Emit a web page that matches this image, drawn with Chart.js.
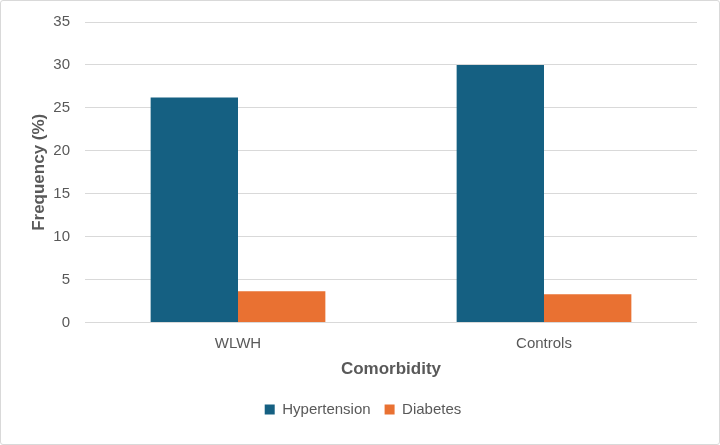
<!DOCTYPE html>
<html><head><meta charset="utf-8">
<script src="https://cdn.jsdelivr.net/npm/chart.js@4.4.1/dist/chart.umd.min.js"></script>
<style>
html,body{margin:0;padding:0;background:#fff;}
#wrap{position:relative;width:720px;height:445px;box-sizing:border-box;border:1px solid #d9d9d9;border-radius:3px;}
</style></head>
<body><div id="wrap"><canvas id="c"></canvas></div>
<script>
const categories = ["WLWH", "Controls"];
const hypertension = [26.2, 30.0];
const diabetes = [3.65, 3.3];
const yTicks = [0, 5, 10, 15, 20, 25, 30, 35];

const txt = "#595959";
const fam = "'Liberation Sans', Arial, sans-serif";
new Chart(document.getElementById('c'), {
  type: 'bar',
  data: {
    labels: categories,
    datasets: [
      {label: "Hypertension", data: hypertension, backgroundColor: "#156082", barPercentage: 1, categoryPercentage: 0.571},
      {label: "Diabetes", data: diabetes, backgroundColor: "#E97132", barPercentage: 1, categoryPercentage: 0.571}
    ]
  },
  options: {
    responsive: true, maintainAspectRatio: false, animation: false,
    layout: {padding: {left: 28, right: 22, top: 21, bottom: 17}},
    plugins: {
      legend: {position: 'bottom', labels: {color: txt, font: {family: fam, size: 15}, usePointStyle: true, pointStyle: 'rect', boxWidth: 10, boxHeight: 10, padding: 14}},
      tooltip: {enabled: false}
    },
    scales: {
      x: {
        grid: {display: false},
        border: {display: false},
        ticks: {color: txt, font: {family: fam, size: 15}, padding: 4},
        title: {display: true, text: "Comorbidity", color: txt, font: {family: fam, size: 17, weight: 'bold'}, padding: {top: 3, bottom: 8}}
      },
      y: {
        min: 0, max: 35,
        afterBuildTicks: (s) => { s.ticks = yTicks.map(v => ({value: v})); },
        afterFit: (s) => { s.width = 56; s.paddingTop = 0; s.paddingBottom = 0; },
        grid: {color: "#d9d9d9", drawTicks: false, lineWidth: 1},
        border: {display: false},
        ticks: {color: txt, font: {family: fam, size: 15}, padding: 15},
        title: {display: true, text: "Frequency (%)", color: txt, font: {family: fam, size: 17, weight: 'bold'}, padding: {top: 0, bottom: 4}}
      }
    }
  }
});
</script></body></html>
